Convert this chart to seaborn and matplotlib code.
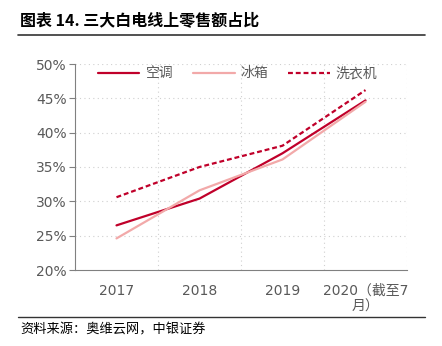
import matplotlib
matplotlib.use("Agg")
import matplotlib.pyplot as plt
import seaborn as sns
import pandas as pd
from matplotlib.lines import Line2D

years = ["2017", "2018", "2019", "2020（截至7\n月）"]
ac = [26.5, 30.4, 37.0, 44.7]        # 空调
fridge = [24.6, 31.6, 36.1, 44.5]    # 冰箱
washer = [30.6, 35.0, 38.1, 46.2]    # 洗衣机
series_names = ["空调", "冰箱", "洗衣机"]

sns.set_theme(style="white")
plt.rcParams['font.family'] = ['DejaVu Sans', 'Noto Sans CJK SC']

df = pd.DataFrame({
    "x": list(range(len(years))) * 3,
    "value": ac + fridge + washer,
    "series": [s for s in series_names for _ in years],
})

fig = plt.figure(figsize=(4.42, 3.46), dpi=100)
ax = fig.add_axes([75/442, 1-270/346, (407-75)/442, (270-64)/346])

colors = {"空调": "#C0002A", "冰箱": "#F2A9A9", "洗衣机": "#C0002A"}
dashes = {"空调": "", "冰箱": "", "洗衣机": (2.2, 1.3)}
sns.lineplot(data=df, x="x", y="value", hue="series", style="series",
             palette=colors, dashes=dashes, linewidth=1.6, ax=ax, legend=False)

ax.set_xlim(-0.5, 3.5)
ax.set_ylim(20, 50)
ax.set_yticks(range(20, 51, 5))
ax.set_yticklabels([f"{v}%" for v in range(20, 51, 5)], color="#595959", fontsize=10)
ax.set_xticks(range(len(years)))
ax.set_xticklabels(years, color="#595959", fontsize=10)
ax.tick_params(axis='x', length=0, pad=10)
ax.set_xticks([-0.5, 0.5, 1.5, 2.5, 3.5], minor=True)
ax.tick_params(axis='x', which='minor', length=4, color="#808080", width=0.8)
ax.tick_params(axis='y', length=4, color="#808080", width=0.8, left=True, pad=2)
ax.set_xlabel("")
ax.set_ylabel("")

for v in range(25, 51, 5):
    ax.axhline(v, color="#D0D0D0", linestyle=(0, (1, 3)), linewidth=0.8, zorder=0)
for v in [0.5, 1.5, 2.5, 3.5]:
    ax.axvline(v, color="#D0D0D0", linestyle=(0, (1, 3)), linewidth=0.8, zorder=0)

for s in ["top", "right"]:
    ax.spines[s].set_visible(False)
for s in ["left", "bottom"]:
    ax.spines[s].set_color("#808080")
    ax.spines[s].set_linewidth(0.8)

handles = [Line2D([], [], color=colors[s], linewidth=1.6,
                  linestyle=(0, dashes[s]) if dashes[s] else "-") for s in series_names]
leg = ax.legend(handles, series_names, loc="upper center", bbox_to_anchor=(0.49, 1.015),
                ncol=3, frameon=False, fontsize=10, handlelength=3.0, columnspacing=1.4,
                handletextpad=0.45, borderaxespad=0)
for t in leg.get_texts():
    t.set_color("#595959")
    t.set_family(['Noto Sans CJK SC'])

fig.text(20/442, 1-20/346, "图表 14. 三大白电线上零售额占比", fontsize=11.5, fontweight="bold",
         va="center", ha="left", color="#000000", family=['Noto Sans CJK SC'])
fig.add_artist(Line2D([18/442, 425/442], [1-35/346, 1-35/346], color="#333333", linewidth=1.2))
fig.add_artist(Line2D([18/442, 425/442], [1-317/346, 1-317/346], color="#333333", linewidth=1.0))
fig.text(20/442, 1-330/346, "资料来源：奥维云网，中银证券", fontsize=9.5, style="italic",
         va="center", ha="left", color="#000000", family=['Noto Sans CJK SC'])

fig.savefig("out.png", dpi=100, facecolor="white")
